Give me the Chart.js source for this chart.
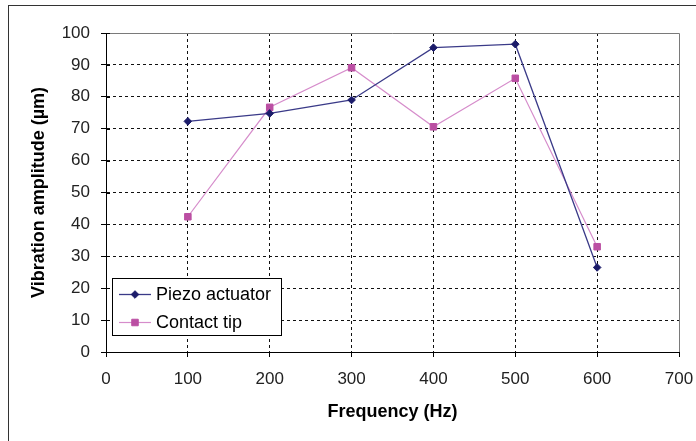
<!DOCTYPE html>
<html>
<head>
<meta charset="utf-8">
<script src="https://cdn.jsdelivr.net/npm/chart.js@4"></script>
<style>
  html, body { margin: 0; padding: 0; background: #fff; }
  #wrap { width: 696px; height: 441px; position: relative; }
</style>
</head>
<body>
<div id="wrap"><canvas id="c" width="696" height="441"></canvas></div>
<script>
// ---- data ----
const frequencies = [100, 200, 300, 400, 500, 600];
const piezoActuator = [72.3, 74.8, 79.0, 95.4, 96.5, 26.5];
const contactTip = [42.4, 76.7, 89.1, 70.6, 85.8, 33.0];
const seriesNames = ['Piezo actuator', 'Contact tip'];
const xTitle = 'Frequency (Hz)';
const yTitle = 'Vibration amplitude (\u00b5m)';

const FONT = "'Liberation Sans', Arial, sans-serif";
const NAVY_LINE = '#3a3a88';
const NAVY_PT = '#1c1c6a';
const PINK_LINE = '#d68ccb';
const PINK_PT = '#bb4fa3';

const toXY = (ys) => frequencies.map((f, i) => ({ x: f, y: ys[i] }));

const frame = {
  id: 'frame',
  beforeDraw(chart) {
    const ctx = chart.ctx;
    ctx.save();
    ctx.fillStyle = '#fff';
    ctx.fillRect(0, 0, chart.width, chart.height);
    ctx.strokeStyle = '#333';
    ctx.lineWidth = 1;
    ctx.strokeRect(8.5, 5.5, 800, 800);
    ctx.restore();
  },
  beforeDatasetsDraw(chart) {
    const { ctx, chartArea: a } = chart;
    ctx.save();
    ctx.strokeStyle = '#7a7a7a';
    ctx.lineWidth = 1;
    ctx.beginPath();
    ctx.moveTo(a.left, Math.round(a.top) + 0.5);
    ctx.lineTo(Math.round(a.right) + 0.5, Math.round(a.top) + 0.5);
    ctx.lineTo(Math.round(a.right) + 0.5, a.bottom);
    ctx.stroke();
    // y ticks cross the axis slightly into the plot
    ctx.strokeStyle = '#000';
    ctx.beginPath();
    chart.scales.y.ticks.forEach((t) => {
      const py = Math.round(chart.scales.y.getPixelForValue(t.value)) + 0.5;
      ctx.moveTo(a.left, py);
      ctx.lineTo(a.left + 4, py);
    });
    ctx.stroke();
    ctx.restore();
  },
  afterDraw(chart) {
    const ctx = chart.ctx;
    const bx = 112.5, by = 278.5, bw = 169, bh = 57;
    ctx.save();
    ctx.fillStyle = '#fff';
    ctx.fillRect(bx, by, bw, bh);
    ctx.strokeStyle = '#000';
    ctx.lineWidth = 1;
    ctx.strokeRect(bx, by, bw, bh);
    const rows = [294, 322];
    chart.data.datasets.forEach((ds, i) => {
      const y = rows[i];
      ctx.strokeStyle = ds.borderColor;
      ctx.lineWidth = ds.borderWidth;
      ctx.beginPath();
      ctx.moveTo(119, y + 0.5);
      ctx.lineTo(151, y + 0.5);
      ctx.stroke();
      ctx.fillStyle = ds.pointBackgroundColor;
      ctx.strokeStyle = ds.pointBorderColor;
      ctx.lineWidth = 1;
      Chart.helpers.drawPoint(ctx, { pointStyle: ds.pointStyle, radius: ds.pointRadius, borderWidth: 1 }, 135, y + 0.5);
      ctx.fillStyle = '#000';
      ctx.font = '18px ' + FONT;
      ctx.textBaseline = 'middle';
      ctx.textAlign = 'left';
      ctx.fillText(ds.label, 156, y + 1);
    });
    ctx.restore();
  }
};

new Chart(document.getElementById('c'), {
  type: 'line',
  data: {
    datasets: [
      {
        label: seriesNames[0],
        data: toXY(piezoActuator),
        borderColor: NAVY_LINE,
        borderWidth: 1.3,
        pointStyle: 'rectRot',
        pointRadius: 3.8,
        pointBackgroundColor: NAVY_PT,
        pointBorderColor: NAVY_PT,
        pointBorderWidth: 1,
        tension: 0
      },
      {
        label: seriesNames[1],
        data: toXY(contactTip),
        borderColor: PINK_LINE,
        borderWidth: 1.2,
        pointStyle: 'rect',
        pointRadius: 4.6,
        pointBackgroundColor: PINK_PT,
        pointBorderColor: PINK_PT,
        pointBorderWidth: 1,
        tension: 0
      }
    ]
  },
  options: {
    responsive: false,
    animation: false,
    devicePixelRatio: 1,
    layout: { padding: { left: 0, top: 33, right: 17, bottom: 0 } },
    plugins: { legend: { display: false }, tooltip: { enabled: false } },
    scales: {
      x: {
        type: 'linear',
        min: 0, max: 700,
        afterFit(s) { s.height = 89; s.paddingRight = 0; s.paddingLeft = 0; },
        ticks: { stepSize: 100, color: '#222', font: { family: FONT, size: 17 }, padding: 12, maxRotation: 0 },
        grid: {
          color: (c) => (c.tick && (c.tick.value === 700 || c.tick.value === 0)) ? 'rgba(0,0,0,0)' : '#111',
          tickColor: '#000',
          tickLength: 5,
          lineWidth: 1
        },
        border: { display: true, color: '#000', width: 1, dash: [3, 3] },
        title: { display: true, text: xTitle, color: '#000', font: { family: FONT, size: 18, weight: 'bold' }, padding: { top: 0, bottom: 18 } }
      },
      y: {
        min: 0, max: 100,
        afterFit(s) { s.width = 106; s.paddingTop = 0; s.paddingBottom = 0; },
        ticks: { stepSize: 10, color: '#222', font: { family: FONT, size: 17 }, padding: 11 },
        grid: {
          color: (c) => (c.tick && (c.tick.value === 100 || c.tick.value === 0)) ? 'rgba(0,0,0,0)' : '#111',
          tickColor: '#000',
          tickLength: 5,
          lineWidth: 1
        },
        border: { display: true, color: '#000', width: 1, dash: [3, 3] },
        title: { display: true, text: yTitle, color: '#000', font: { family: FONT, size: 18, weight: 'bold' }, padding: { top: 28, bottom: 0 } }
      }
    }
  },
  plugins: [frame]
});
</script>
</body>
</html>
